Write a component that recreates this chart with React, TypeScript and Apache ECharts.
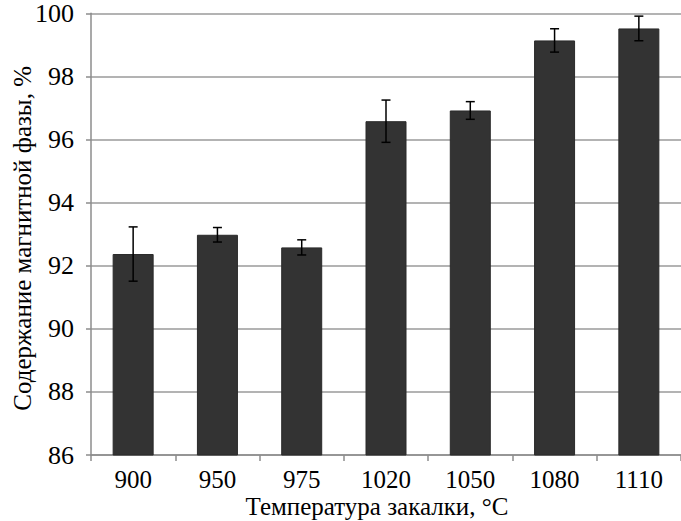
import React, { useEffect, useRef } from "react";
import * as echarts from "echarts";

const categories = ["900", "950", "975", "1020", "1050", "1080", "1110"];
const values = [92.37, 92.98, 92.58, 96.58, 96.92, 99.14, 99.52];
const errors = [0.86, 0.23, 0.24, 0.67, 0.28, 0.37, 0.39];
const yTicks = { min: 86, max: 100, interval: 2 };
const xTitle = "Температура закалки, °С";
const yTitle = "Содержание магнитной фазы, %";

export default function App() {
  const ref = useRef<HTMLDivElement>(null);
  useEffect(() => {
    if (!ref.current) return;
    const chart = echarts.init(ref.current, undefined, { renderer: "svg" });
    const errData = values.map((v, i) => [i, v - errors[i], v + errors[i]]);
    chart.setOption({
      animation: false,
      backgroundColor: "#ffffff",
      grid: { left: 91, top: 13.3, width: 597, height: 441.7, containLabel: false },
      xAxis: {
        type: "category",
        data: categories,
        axisLine: { lineStyle: { color: "#8c8c8c", width: 1.5 } },
        axisTick: { show: true, length: 6, lineStyle: { color: "#8c8c8c", width: 1.5 } },
        axisLabel: { color: "#000", fontFamily: "Times New Roman", fontSize: 25, margin: 12 },
      },
      yAxis: {
        type: "value",
        min: yTicks.min,
        max: yTicks.max,
        interval: yTicks.interval,
        axisLine: { show: true, lineStyle: { color: "#8c8c8c", width: 1.5 } },
        axisTick: { show: true, length: 5, lineStyle: { color: "#8c8c8c", width: 1.5 } },
        axisLabel: { color: "#000", fontFamily: "Times New Roman", fontSize: 26, margin: 17 },
        splitLine: { show: true, lineStyle: { color: "#9a9a9a", width: 1.5 } },
      },
      graphic: [
        {
          type: "text",
          x: 377,
          y: 506,
          style: {
            text: xTitle,
            font: "25px Liberation Serif",
            fill: "#000",
            textAlign: "center",
            textVerticalAlign: "middle",
          },
        },
        {
          type: "text",
          x: 22,
          y: 66,
          rotation: Math.PI / 2,
          style: {
            text: yTitle,
            font: "25px Times New Roman",
            fill: "#000",
            textAlign: "right",
            textVerticalAlign: "middle",
          },
        },
      ],
      series: [
        {
          type: "bar",
          data: values,
          barWidth: 41,
          itemStyle: { color: "#333333", borderColor: "#2a2a2a", borderWidth: 1 },
        },
        {
          type: "custom",
          data: errData,
          z: 10,
          renderItem: (params: any, api: any) => {
            const i = api.value(0);
            const lo = api.coord([i, api.value(1)]);
            const hi = api.coord([i, api.value(2)]);
            const hw = 4.5;
            const style = { stroke: "#000", lineWidth: 1.5 };
            return {
              type: "group",
              children: [
                { type: "line", shape: { x1: hi[0], y1: hi[1], x2: lo[0], y2: lo[1] }, style },
                { type: "line", shape: { x1: hi[0] - hw, y1: hi[1], x2: hi[0] + hw, y2: hi[1] }, style },
                { type: "line", shape: { x1: lo[0] - hw, y1: lo[1], x2: lo[0] + hw, y2: lo[1] }, style },
              ],
            };
          },
        },
      ],
    });
    return () => chart.dispose();
  }, []);
  return (
    <div
      ref={ref}
      style={{ position: "fixed", left: 0, top: 0, width: 681, height: 521, background: "#fff" }}
    />
  );
}
